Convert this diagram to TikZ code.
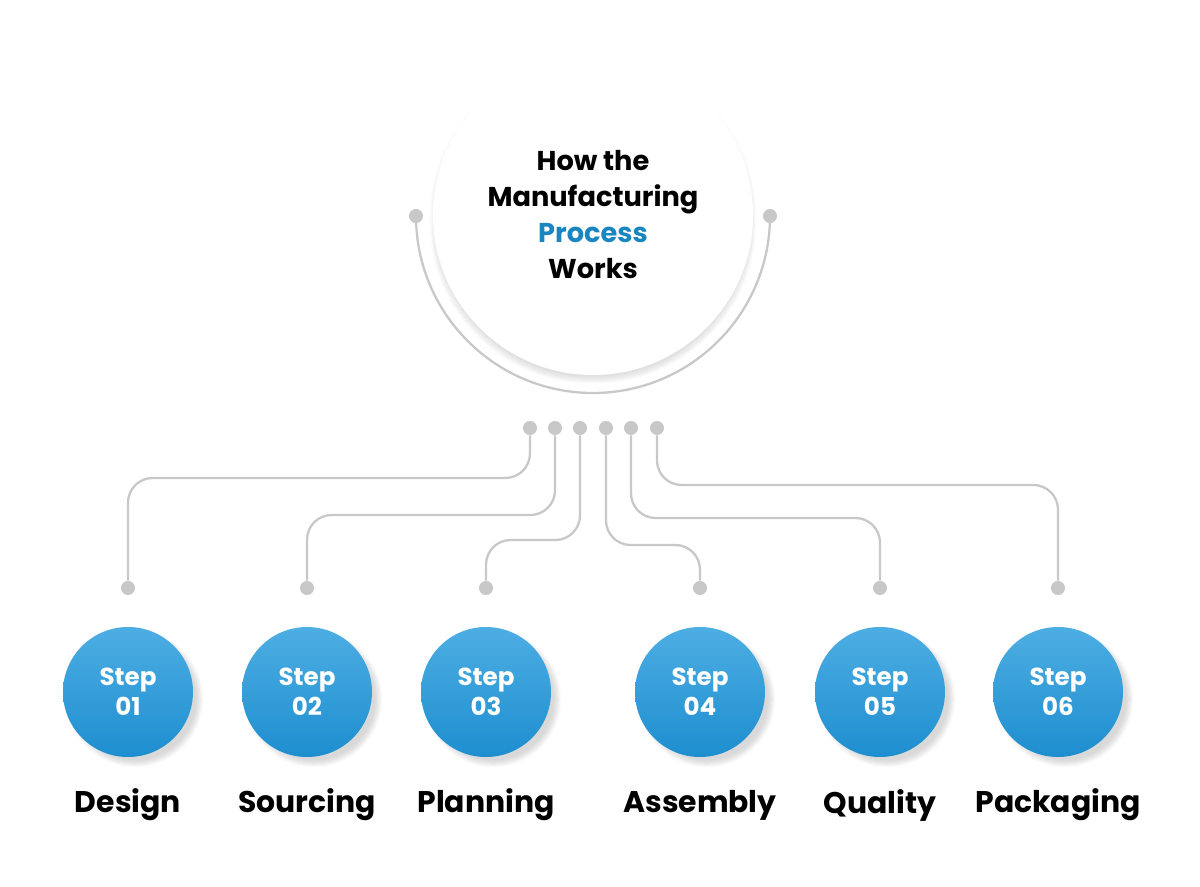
\documentclass[tikz,border=0pt]{standalone}
\usepackage{fontspec}
\setmainfont{Poppins}
\usetikzlibrary{shadows.blur}
\definecolor{blu}{HTML}{1A86C0}
\definecolor{bltop}{HTML}{4DAEE3}
\definecolor{blbot}{HTML}{1E8ECF}
\definecolor{ln}{HTML}{C8C8C8}
\begin{document}
\begin{tikzpicture}[x=0.02cm,y=-0.02cm,
  dot/.style={circle,fill=ln,inner sep=0,minimum size=8},
  wire/.style={draw=ln,line width=1.3pt,rounded corners=14},
  stepc/.style={circle,minimum size=130*0.02cm,inner sep=0,top color=bltop,bottom color=blbot,
    text=white,font=\fontsize{14}{17}\selectfont\bfseries,align=center,
    blur shadow={shadow xshift=4pt,shadow yshift=-4pt,shadow opacity=15,shadow blur steps=10}},
  lab/.style={font=\fontsize{17}{20}\selectfont\bfseries}]
\useasboundingbox (0,0) rectangle (1200,886);
\node[circle,fill=white,minimum size=320*0.02cm,
  blur shadow={shadow xshift=0pt,shadow yshift=-3pt,shadow opacity=12,shadow blur steps=12,shadow blur extra rounding=3pt},
  align=center,font=\fontsize{15.5}{20.5}\selectfont\bfseries] (c) at (593,215)
  {How the\\Manufacturing\\\textcolor{blu}{Process}\\Works};
\draw[draw=ln,line width=1.3pt] (416,216) arc[start angle=180,end angle=0,radius=177];
\node[dot] (e1) at (416,216) {}; \node[dot] (e2) at (770,216) {};
\foreach \i/\x/\y/\bx/\t in {1/530/478/128/Design,2/555/515/307/Sourcing,3/580/540/486/Planning,4/606/545/700/Assembly,5/631/518/880/Quality,6/657/485/1058/Packaging}{
  \node[dot] (t\i) at (\x,428) {};
  \node[dot] (b\i) at (\bx,588) {};
  \draw[wire] (t\i) -- (\x,\y) -- (\bx,\y) -- (b\i);
  \node[stepc] (s\i) at (\bx,692) {Step\\0\i};
  \node[lab] (l\i) at (\bx,805) {\t};
}
\end{tikzpicture}
\end{document}
